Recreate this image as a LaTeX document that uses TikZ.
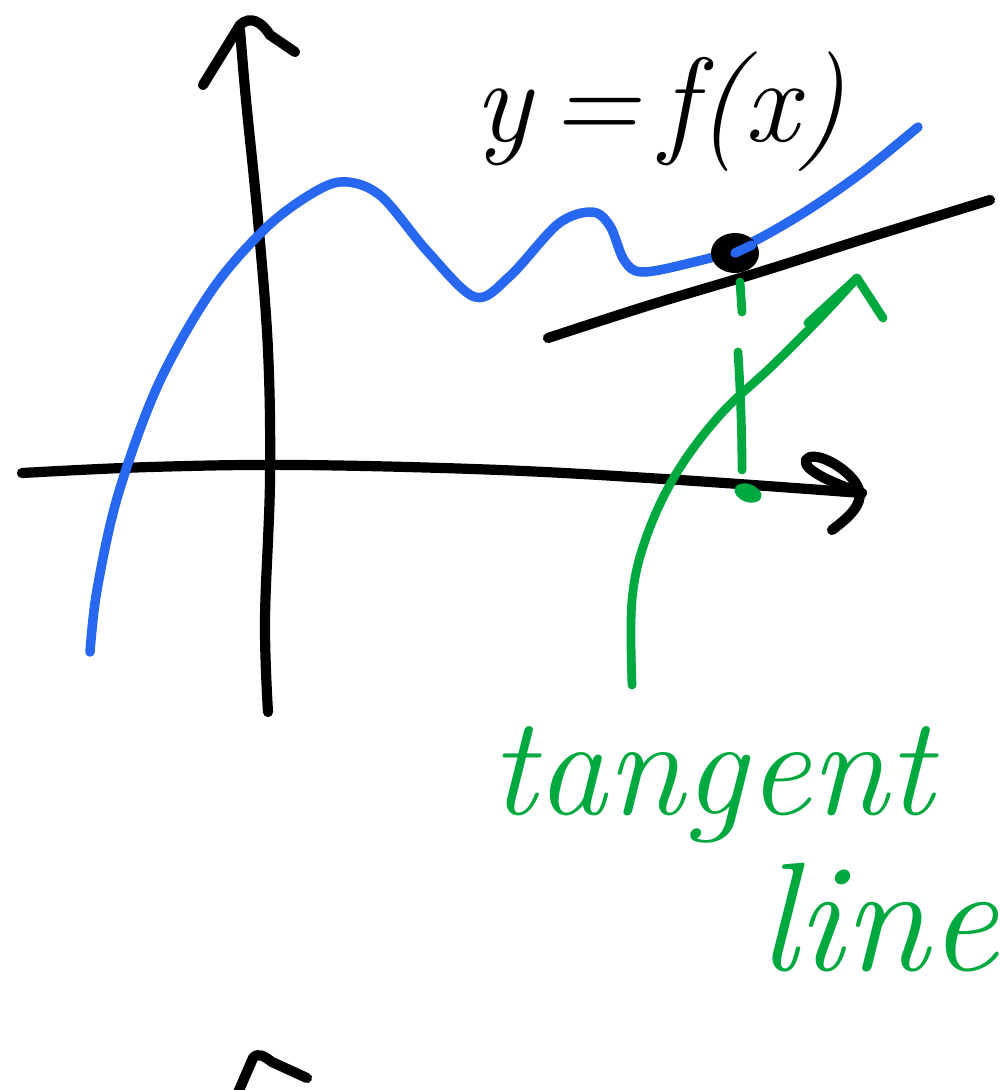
\documentclass[tikz,border=0pt]{standalone}
\usetikzlibrary{calc}
\definecolor{fblue}{RGB}{40,104,240}
\definecolor{tgreen}{RGB}{0,168,64}
\tikzset{
  axisline/.style={line width=2.9pt, black, line cap=round, line join=round},
  funcline/.style={line width=2.7pt, fblue, line cap=round, line join=round},
  greenline/.style={line width=2.5pt, tgreen, line cap=round, line join=round},
  handtext/.style={inner sep=0pt, font=\fontsize{40}{44}\selectfont\itshape}
}
\begin{document}
\begin{tikzpicture}[x=0.01cm,y=-0.01cm]
\useasboundingbox (0,0) rectangle (1000,1090);
% y-axis
\draw[axisline] plot[smooth, tension=0.6] coordinates {(268,712) (265,620) (270,480) (268,350) (258,220) (246,100) (240,30)};
\draw[axisline] (203,85) -- (240,25) .. controls (250,15) and (262,22) .. (270,35) -- (295,52);
% x-axis
\draw[axisline] plot[smooth, tension=0.6] coordinates {(22,473) (150,467) (300,465) (500,470) (680,480) (862,493)};
\draw[axisline] (832,530) .. controls (852,515) and (868,500) .. (855,482)
  .. controls (842,464) and (812,450) .. (806,460)
  .. controls (802,470) and (835,484) .. (862,493);
% partial arrow at bottom
\draw[axisline] (237,1095) -- (253,1058) .. controls (258,1052) and (264,1056) .. (272,1062) -- (307,1078);
% tangent line
\draw[axisline] plot[smooth, tension=0.6] coordinates {(548,338) (650,305) (760,272) (870,237) (990,200)};
% blue curve
\draw[funcline] plot[smooth, tension=0.55] coordinates {(90,652) (97,590) (118,495) (158,385) (212,290) (268,226) (318,190) (348,182) (382,197) (428,252) (475,297) (510,276) (558,224) (592,212) (610,226) (624,260) (642,272) (690,263) (740,248) (800,215) (860,174) (918,127)};
% point of tangency
\coordinate (P) at (735,253);
\fill[black] (P) ellipse [x radius=24, y radius=20];
\draw[fblue, line width=2.7pt, line cap=round] (P) -- (752,245);
% dashed drop line
\draw[greenline] (740,282) -- (742,312);
\draw[greenline] (738,352) .. controls (741,400) and (742,440) .. (742,470);
\coordinate (X) at (748,493);
\fill[tgreen, rotate around={-20:(X)}] (X) ellipse [x radius=14, y radius=9];
% green pointer curve with arrowhead
\coordinate (tip) at (857,278);
\draw[greenline] plot[smooth, tension=0.6] coordinates {(632,685) (632,600) (646,538) (676,474) (720,415) (772,366) (820,318) (857,278)};
\draw[greenline] (808,323) -- (tip) -- (883,318);
% labels
\node[handtext, font=\fontsize{34}{38}\selectfont\itshape] (lab) at (660,112) {y\,=\,f(x)};
\node[handtext, text=tgreen] (tan) at (712,785) {tangent};
\node[handtext, text=tgreen, font=\fontsize{44}{48}\selectfont\itshape] (line) at (878,918) {line};
\end{tikzpicture}
\end{document}
